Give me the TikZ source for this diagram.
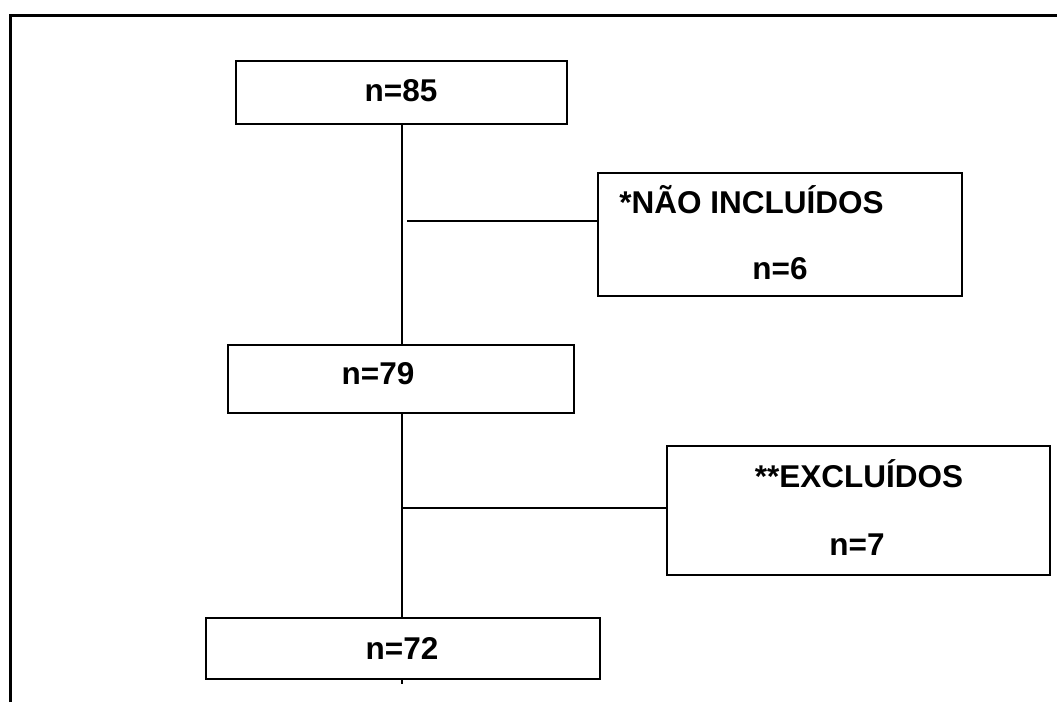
\documentclass[tikz,border=0pt]{standalone}
\usepackage{fontspec}
\setmainfont{Liberation Sans}
\usetikzlibrary{positioning}
\tikzset{
  flowbox/.style={draw, line width=2pt, inner sep=0pt},
  txt/.style={font=\fontsize{31.5}{38}\selectfont\bfseries, anchor=base, inner sep=0pt},
  link/.style={line width=1.5pt},
  frameline/.style={line width=3pt},
}
\begin{document}
\begin{tikzpicture}[x=1pt,y=1pt]
  \useasboundingbox (0,0) rectangle (1057,702);
  % open frame: top and left sides only
  \draw[frameline] (10,0) -- (10,686) -- (1057,686);

  % main column
  \node[flowbox, minimum width=331pt, minimum height=63pt] (total) at (401.5,609.5) {};
  \node[flowbox, minimum width=346pt, minimum height=68pt] (elig) at (401,323) {};
  \node[flowbox, minimum width=394pt, minimum height=61pt] (final) at (403,53.5) {};
  \node[txt] (totaltxt) at (401,600.3) {n=85};
  \node[txt] (eligtxt) at (378,317) {n=79};
  \node[txt] (finaltxt) at (402,43) {n=72};

  % side boxes
  \node[flowbox, minimum width=364pt, minimum height=123pt] (naoinc) at (780,467.5) {};
  \node[txt] (naoinctxt) at (751.5,488.7) {*NÃO INCLUÍDOS};
  \node[txt] (naoincn) at (780,422) {n=6};
  \node[flowbox, minimum width=383pt, minimum height=129pt] (excl) at (858.5,191.5) {};
  \node[txt] (excltxt) at (859,214.7) {**EXCLUÍDOS};
  \node[txt] (excln) at (857,147) {n=7};

  % connectors
  \coordinate (br1) at (407,481);
  \coordinate (br2) at (402,194);
  \draw[link] (402,0 |- total.south) -- (402,0 |- elig.north);
  \draw[link] (402,0 |- elig.south) -- (402,0 |- final.north);
  \draw[link] (402,0 |- final.south) -- ++(0,-4);
  \draw[link] (br1) -- (br1 -| naoinc.west);
  \draw[link] (br2) -- (br2 -| excl.west);
\end{tikzpicture}
\end{document}
